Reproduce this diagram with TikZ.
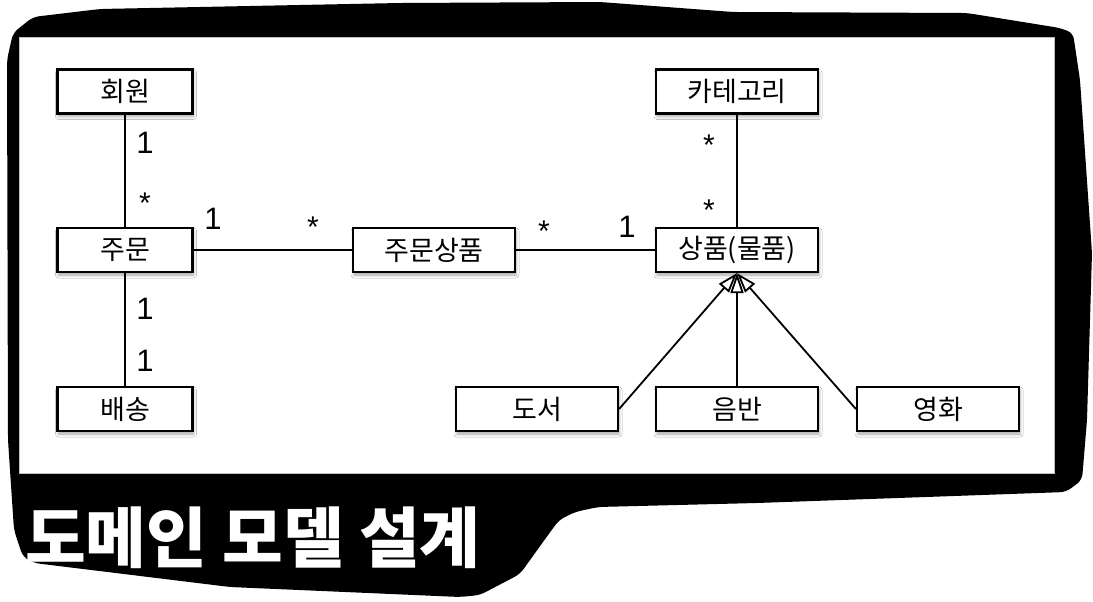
\documentclass[tikz,border=0pt]{standalone}
\usepackage{fontspec}
\newfontfamily\kor{Noto Sans CJK KR}
\newfontfamily\num{Liberation Sans}
\usetikzlibrary{arrows.meta,shadows.blur}

\tikzset{
  cls/.style={draw, line width=2.2pt, fill=white, minimum width=162pt, minimum height=44pt, inner sep=0pt,
    font=\kor\fontsize{27}{30}\selectfont,
    blur shadow={shadow xshift=1pt, shadow yshift=-3pt, shadow blur radius=3pt, shadow opacity=35}},
  clsleft/.style={cls, minimum width=135pt},
  assoc/.style={line width=1.8pt},
  gen/.style={line width=1.8pt, -{Triangle[fill=white, length=20pt, width=13pt]}},
  mult/.style={font=\num\fontsize{31}{34}\selectfont, anchor=base, inner sep=0pt},
  many/.style={font=\num\fontsize{30}{34}\selectfont, anchor=base, inner sep=0pt},
}

\begin{document}
\begin{tikzpicture}[x=1pt, y=-1pt]
        \useasboundingbox (0,0) rectangle (1093,602);

        % --- Black brush background ---
        \fill[black, rounded corners=6pt] (7,60) -- (13,33) -- (33,17) -- (100,9) -- (400,3) -- (600,2)
          -- (733,12) -- (967,13) -- (1060,28) -- (1073,33) -- (1080,80) -- (1092,253) -- (1087,420)
          -- (1082,480) -- (1066,492) -- (954,496) -- (757,503) -- (598,507) -- (575,512) -- (559,520)
          -- (543,542) -- (520,574) -- (480,595) -- (460,597) -- (230,587) -- (34,563) -- (23,557)
          -- (14,530) -- (8,440) -- cycle;

        % --- White drawing area ---
        \draw[gray!50, line width=0.8pt, fill=white] (19,37) rectangle (1054,473);

        % --- Title ---
        \node[font=\kor\bfseries\fontsize{66}{66}\selectfont, text=white, anchor=base west, inner sep=0pt]
          (title) at (25,562) {도메인 모델 설계};

        % --- Classes: left column ---
        \node[clsleft] (hoewon)  at (125,91.5) {회원};
        \node[clsleft] (jumun)   at (125,250)  {주문};
        \node[clsleft] (baesong) at (125,409)  {배송};

        % --- Classes: middle and right ---
        \node[cls] (jumunsangpum) at (434,250)  {주문상품};
        \node[cls] (sangpum)      at (737,250)  {상품(물품)};
        \node[cls] (category)     at (737,91.5) {카테고리};
        \node[cls] (doseo)        at (537,409)  {도서};
        \node[cls] (eumban)       at (737,409)  {음반};
        \node[cls] (yeonghwa)     at (938,409)  {영화};

        % --- Associations ---
        \draw[assoc] (hoewon) -- (jumun);
        \draw[assoc] (jumun) -- (baesong);
        \draw[assoc] (jumun) -- (jumunsangpum);
        \draw[assoc] (jumunsangpum) -- (sangpum);
        \draw[assoc] (category) -- (sangpum);

        % --- Generalization (subtypes of the product) ---
        \draw[gen] (doseo.east) -- (sangpum.south);
        \draw[gen] (yeonghwa.west) -- (sangpum.south);
        \draw[gen] (eumban.north) -- (sangpum.south);

        % --- Multiplicities ---
        \node[mult] (mHoewon)   at (145,153.5) {1};
        \node[many] (mJumunA)   at (145,213)   {*};
        \node[mult] (mJumunB)   at (213,229.5) {1};
        \node[many] (mItemA)    at (313,237)   {*};
        \node[many] (mItemB)    at (544,241)   {*};
        \node[mult] (mSangpumA) at (627,237.5) {1};
        \node[many] (mCategory) at (709,155)   {*};
        \node[many] (mSangpumB) at (709,220)   {*};
        \node[mult] (mJumunC)   at (145,319.5) {1};
        \node[mult] (mBaesong)  at (145,371.5) {1};
\end{tikzpicture}
\end{document}
